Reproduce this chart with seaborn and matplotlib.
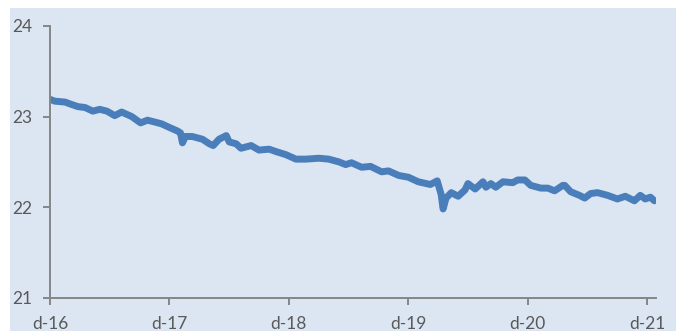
import pandas as pd
import matplotlib
matplotlib.use("Agg")
import matplotlib.pyplot as plt
from matplotlib.patches import Rectangle
import seaborn as sns

# Series readings (date, level)
dates = [
    "2016-12-01", "2016-12-16", "2017-01-16", "2017-01-31", "2017-02-24", "2017-03-18",
    "2017-04-11", "2017-05-02", "2017-05-24", "2017-06-17", "2017-07-08", "2017-08-08",
    "2017-09-04", "2017-09-25", "2017-10-17", "2017-11-07", "2017-12-01", "2017-12-26",
    "2018-01-04", "2018-01-10", "2018-01-19", "2018-02-09", "2018-03-12", "2018-04-02",
    "2018-04-14", "2018-05-02", "2018-05-24", "2018-06-02", "2018-06-23", "2018-07-08",
    "2018-08-08", "2018-09-01", "2018-10-02", "2018-10-26", "2018-11-22", "2018-12-23",
    "2019-01-22", "2019-03-03", "2019-04-02", "2019-05-03", "2019-05-24", "2019-06-11",
    "2019-07-12", "2019-08-08", "2019-09-11", "2019-10-02", "2019-11-02", "2019-12-02",
    "2020-01-01", "2020-02-07", "2020-02-28", "2020-03-11", "2020-03-17", "2020-03-26",
    "2020-04-11", "2020-05-02", "2020-05-23", "2020-06-01", "2020-06-23", "2020-07-17",
    "2020-07-26", "2020-08-10", "2020-08-25", "2020-09-16", "2020-10-16", "2020-10-31",
    "2020-11-22", "2020-12-10", "2021-01-10", "2021-01-31", "2021-02-21", "2021-03-18",
    "2021-03-24", "2021-04-11", "2021-05-08", "2021-05-24", "2021-06-11", "2021-07-02",
    "2021-08-02", "2021-09-01", "2021-09-25", "2021-10-23", "2021-11-10", "2021-11-25",
    "2021-12-11", "2021-12-23",
]
values = [
    23.19, 23.17, 23.16, 23.14, 23.11, 23.10,
    23.06, 23.08, 23.06, 23.01, 23.05, 23.00,
    22.93, 22.96, 22.94, 22.92, 22.88, 22.84,
    22.82, 22.71, 22.78, 22.78, 22.75, 22.70,
    22.68, 22.75, 22.79, 22.72, 22.70, 22.65,
    22.68, 22.63, 22.64, 22.61, 22.58, 22.53,
    22.53, 22.54, 22.53, 22.50, 22.47, 22.49,
    22.44, 22.45, 22.39, 22.40, 22.35, 22.33,
    22.28, 22.25, 22.29, 22.14, 21.98, 22.10,
    22.16, 22.12, 22.19, 22.26, 22.20, 22.28,
    22.22, 22.26, 22.22, 22.28, 22.27, 22.30,
    22.30, 22.24, 22.21, 22.21, 22.18, 22.24,
    22.24, 22.17, 22.13, 22.10, 22.15, 22.16,
    22.13, 22.09, 22.12, 22.07, 22.13, 22.09,
    22.11, 22.07,
]
x_ticks = ["2016-12-01", "2017-12-01", "2018-12-01", "2019-12-01", "2020-12-01", "2021-12-01"]
x_tick_labels = ["d-16", "d-17", "d-18", "d-19", "d-20", "d-21"]
y_ticks = [21, 22, 23, 24]

df = pd.DataFrame({"fecha": pd.to_datetime(dates), "valor": values})

sns.set_style("ticks")
plt.rcParams["font.family"] = ["Lato", "DejaVu Sans"]

BG = "#dce6f2"
AXIS = "#868686"
TEXT = "#595959"
LINE = "#4a7ebb"

fig = plt.figure(figsize=(6.76, 3.31), dpi=100, facecolor="white")
# chart area panel behind the axes
fig.patches.append(Rectangle((10 / 676, 0), 666 / 676, 323 / 331,
                             transform=fig.transFigure, facecolor=BG,
                             edgecolor="none", zorder=-10))
ax = fig.add_axes([50 / 676, 1 - 297.7 / 331, (656 - 50) / 676, (297.7 - 26) / 331])
ax.set_zorder(1)
ax.set_facecolor(BG)

sns.lineplot(data=df, x="fecha", y="valor", ax=ax, color=LINE,
             linewidth=5.0, solid_capstyle="round", solid_joinstyle="round")

ax.set_xlim(pd.Timestamp("2016-12-01"), pd.Timestamp("2021-12-28"))
ax.set_ylim(21, 24)
ax.set_xticks(pd.to_datetime(x_ticks))
ax.set_xticklabels(x_tick_labels)
ax.set_yticks(y_ticks)
ax.set_yticklabels([str(v) for v in y_ticks])
ax.set_xlabel("")
ax.set_ylabel("")

for side in ("top", "right"):
    ax.spines[side].set_visible(False)
for side in ("left", "bottom"):
    ax.spines[side].set_color(AXIS)
    ax.spines[side].set_linewidth(1.4)
ax.tick_params(axis="both", colors=AXIS, labelcolor=TEXT, labelsize=12.5,
               length=5, width=1.4, direction="out")
ax.tick_params(axis="x", pad=8)
ax.tick_params(axis="y", pad=8)

fig.savefig("out.png", dpi=100, facecolor=fig.get_facecolor())
